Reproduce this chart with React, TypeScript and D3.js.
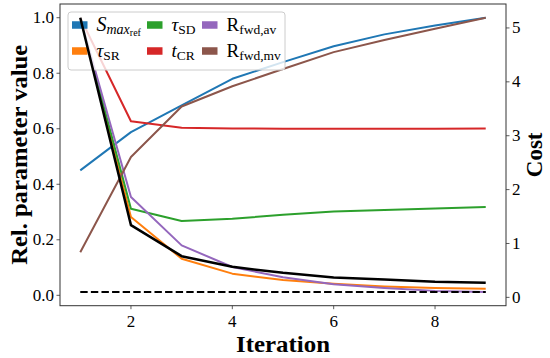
import React from 'react';
import * as d3 from 'd3';

const iterations = [1, 2, 3, 4, 5, 6, 7, 8, 9];
const smaxRef = [0.45, 0.588, 0.684, 0.78, 0.84, 0.897, 0.94, 0.972, 1.0];
const tauSR = [1.0, 0.282, 0.132, 0.078, 0.055, 0.042, 0.032, 0.026, 0.024];
const tauSD = [1.0, 0.312, 0.268, 0.276, 0.29, 0.302, 0.307, 0.313, 0.318];
const tCR = [1.0, 0.627, 0.604, 0.601, 0.6, 0.6, 0.6, 0.6, 0.601];
const rfwdAv = [1.0, 0.354, 0.18, 0.102, 0.065, 0.04, 0.026, 0.016, 0.012];
const rfwdMv = [0.155, 0.498, 0.68, 0.753, 0.815, 0.876, 0.92, 0.96, 1.0];
const cost = [5.19, 1.34, 0.765, 0.567, 0.455, 0.37, 0.333, 0.29, 0.27];
const costTarget = 0.1;
const xTicks = [2, 4, 6, 8];
const leftTicks = [0, 0.2, 0.4, 0.6, 0.8, 1.0];
const rightTicks = [0, 1, 2, 3, 4, 5];

const W = 550, H = 358;
const L = 60, R = 506, T = 4, B = 305.7;
const FONT = "'Liberation Serif', 'DejaVu Serif', serif";
const SPINE = '#333';

function pad(ext: [number, number]): [number, number] {
  const d = (ext[1] - ext[0]) * 0.05;
  return [ext[0] - d, ext[1] + d];
}

export default function App() {
  const x = d3.scaleLinear().domain(pad([1, 9])).range([L, R]);
  const leftSeries = [
    { v: smaxRef, c: '#1f77b4' },
    { v: tauSR, c: '#ff7f0e' },
    { v: tauSD, c: '#2ca02c' },
    { v: tCR, c: '#d62728' },
    { v: rfwdAv, c: '#9467bd' },
    { v: rfwdMv, c: '#8c564b' },
  ];
  const allLeft = leftSeries.flatMap((s) => s.v);
  const yL = d3.scaleLinear().domain(pad([d3.min(allLeft)!, d3.max(allLeft)!])).range([B, T]);
  const yR = d3.scaleLinear().domain(pad([Math.min(costTarget, d3.min(cost)!), d3.max(cost)!])).range([B, T]);

  const lineL = (vals: number[]) =>
    d3.line<number>().x((_, i) => x(iterations[i])).y((d) => yL(d))(vals) || '';
  const lineR = (vals: number[]) =>
    d3.line<number>().x((_, i) => x(iterations[i])).y((d) => yR(d))(vals) || '';

  const sw = { w: 15.5, h: 7.5 };
  const legendItems = [
    { c: '#1f77b4', col: 0, row: 0, key: 'smax' },
    { c: '#ff7f0e', col: 0, row: 1, key: 'tsr' },
    { c: '#2ca02c', col: 1, row: 0, key: 'tsd' },
    { c: '#d62728', col: 1, row: 1, key: 'tcr' },
    { c: '#9467bd', col: 2, row: 0, key: 'rav' },
    { c: '#8c564b', col: 2, row: 1, key: 'rmv' },
  ];
  const colX = [72, 147, 202];
  const rowY = [25, 51];

  const label = (key: string, tx: number, ty: number) => {
    const fs = 19;
    const sub = 13.5;
    switch (key) {
      case 'smax':
        return (
          <text x={tx} y={ty} fontFamily={FONT} fontSize={fs}>
            <tspan fontStyle="italic" fontSize={20}>S</tspan>
            <tspan fontStyle="italic" fontSize={14} dy={3}>max</tspan>
            <tspan fontSize={10} dy={2.5}>ref</tspan>
          </text>
        );
      case 'tsr':
        return (
          <text x={tx} y={ty} fontFamily={FONT} fontSize={fs}>
            <tspan fontStyle="italic">τ</tspan>
            <tspan fontSize={sub} dy={3}>SR</tspan>
          </text>
        );
      case 'tsd':
        return (
          <text x={tx} y={ty} fontFamily={FONT} fontSize={fs}>
            <tspan fontStyle="italic">τ</tspan>
            <tspan fontSize={sub} dy={3}>SD</tspan>
          </text>
        );
      case 'tcr':
        return (
          <text x={tx} y={ty} fontFamily={FONT} fontSize={fs}>
            <tspan fontStyle="italic">t</tspan>
            <tspan fontSize={sub} dy={3}>CR</tspan>
          </text>
        );
      case 'rav':
        return (
          <text x={tx} y={ty} fontFamily={FONT} fontSize={fs}>
            <tspan>R</tspan>
            <tspan fontSize={sub} dy={3}>fwd,av</tspan>
          </text>
        );
      default:
        return (
          <text x={tx} y={ty} fontFamily={FONT} fontSize={fs}>
            <tspan>R</tspan>
            <tspan fontSize={sub} dy={3}>fwd,mv</tspan>
          </text>
        );
    }
  };

  return (
    <svg width={W} height={H} style={{ position: 'absolute', left: 0, top: 0, background: '#fff' }}>
      <rect x={0} y={0} width={W} height={H} fill="#fff" />
      {/* left series */}
      <g fill="none" strokeWidth={2} strokeLinejoin="round">
        {leftSeries.map((s, i) => (
          <path key={i} d={lineL(s.v)} stroke={s.c} />
        ))}
      </g>
      {/* legend */}
      <g>
        <rect x={68} y={12} width={217} height={58} rx={3} fill="#fff" fillOpacity={0.8} stroke="#ccc" strokeWidth={1} />
        {legendItems.map((it) => (
          <g key={it.key}>
            <rect x={colX[it.col]} y={rowY[it.row] - sw.h / 2} width={sw.w} height={sw.h} fill={it.c} />
            {label(it.key, colX[it.col] + sw.w + 9, rowY[it.row] + 5.5)}
          </g>
        ))}
      </g>
      {/* right series */}
      <g fill="none">
        <path d={lineR(cost)} stroke="#000" strokeWidth={2.5} strokeLinejoin="round" />
        <path
          d={lineR(iterations.map(() => costTarget))}
          stroke="#000"
          strokeWidth={2}
          strokeDasharray="7.4,3.2"
        />
      </g>
      {/* frame */}
      <rect x={L} y={T} width={R - L} height={B - T} fill="none" stroke={SPINE} strokeWidth={1} />
      {/* x ticks */}
      {xTicks.map((t) => (
        <g key={'x' + t}>
          <line x1={x(t)} x2={x(t)} y1={B} y2={B + 3.5} stroke={SPINE} strokeWidth={0.8} />
          <text x={x(t)} y={B + 21} textAnchor="middle" fontFamily={FONT} fontSize={17}>
            {t}
          </text>
        </g>
      ))}
      {leftTicks.map((t) => (
        <g key={'l' + t}>
          <line x1={L - 3.5} x2={L} y1={yL(t)} y2={yL(t)} stroke={SPINE} strokeWidth={0.8} />
          <text x={L - 6} y={yL(t) + 5.5} textAnchor="end" fontFamily={FONT} fontSize={17}>
            {t.toFixed(1)}
          </text>
        </g>
      ))}
      {rightTicks.map((t) => (
        <g key={'r' + t}>
          <line x1={R} x2={R + 3.5} y1={yR(t)} y2={yR(t)} stroke={SPINE} strokeWidth={0.8} />
          <text x={R + 6} y={yR(t) + 5.5} textAnchor="start" fontFamily={FONT} fontSize={17}>
            {t}
          </text>
        </g>
      ))}
      {/* axis labels */}
      <text
        x={(L + R) / 2}
        y={352}
        textAnchor="middle"
        fontFamily={FONT}
        fontSize={23}
        fontWeight="bold"
        textLength={94}
        lengthAdjust="spacingAndGlyphs"
      >
        Iteration
      </text>
      <text
        transform={`translate(27, ${(T + B) / 2}) rotate(-90)`}
        textAnchor="middle"
        fontFamily={FONT}
        fontSize={23}
        fontWeight="bold"
        textLength={220}
        lengthAdjust="spacingAndGlyphs"
      >
        Rel. parameter value
      </text>
      <text
        transform={`translate(542, ${(T + B) / 2}) rotate(-90)`}
        textAnchor="middle"
        fontFamily={FONT}
        fontSize={23}
        fontWeight="bold"
      >
        Cost
      </text>
    </svg>
  );
}
